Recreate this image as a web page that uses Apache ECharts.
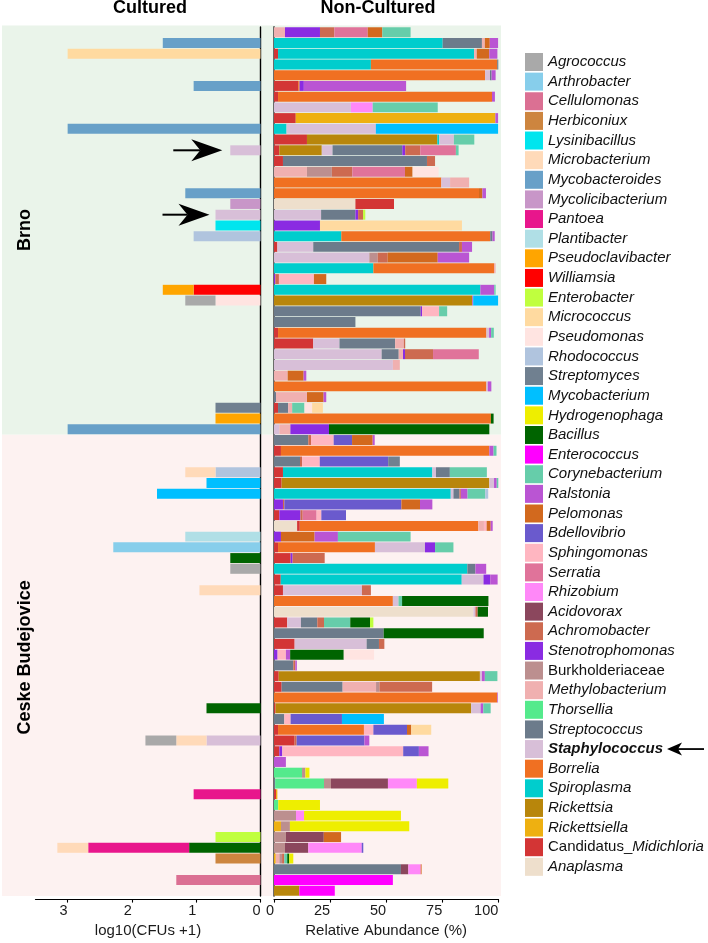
<!DOCTYPE html>
<html><head><meta charset="utf-8">
<script src="https://cdn.jsdelivr.net/npm/echarts@6/dist/echarts.min.js"></script>
<style>html,body{margin:0;padding:0;background:#fff}#c{width:708px;height:943px}</style>
</head><body><div id="c"></div>
<script>
// ---------- DATA ----------
const taxa = ['Agrococcus','Arthrobacter','Cellulomonas','Herbiconiux','Lysinibacillus','Microbacterium','Mycobacteroides','Mycolicibacterium','Pantoea','Plantibacter','Pseudoclavibacter','Williamsia','Enterobacter','Micrococcus','Pseudomonas','Rhodococcus','Streptomyces','Mycobacterium','Hydrogenophaga','Bacillus','Enterococcus','Corynebacterium','Ralstonia','Pelomonas','Bdellovibrio','Sphingomonas','Serratia','Rhizobium','Acidovorax','Achromobacter','Stenotrophomonas','Burkholderiaceae','Methylobacterium','Thorsellia','Streptococcus','Staphylococcus','Borrelia','Spiroplasma','Rickettsia','Rickettsiella','Candidatus_Midichloria','Anaplasma'];
const codes = ['Agr','Art','Cel','Her','Lys','Mba','Mbd','Mcl','Pan','Pla','Psc','Wil','Ent','Mic','Psm','Rho','Smy','Myc','Hyd','Bac','Enc','Cor','Ral','Pel','Bde','Sph','Ser','Rhi','Aci','Ach','Ste','Bur','Met','Tho','Stc','Sta','Bor','Spi','Rik','Rkl','Can','Ana'];
const palette = ['#a9a9a9','#87ceeb','#db7093','#cd853f','#00e5ee','#ffdab9','#68a0c8','#c896c8','#e8168c','#b0dfe6','#ffa500','#ff0000','#c0ff3e','#ffdaa0','#ffe4e1','#b0c4de','#708090','#00bfff','#eeee00','#006400','#ff00ff','#66cdaa','#ba55d3','#d2691e','#6a5acd','#ffb6c1','#e0739a','#ff88f8','#8b475d','#cd6a50','#8a2be2','#bc8f8f','#f0b0b0','#54ea8c','#6c7b8b','#d8bfd8','#f07022','#00cdcd','#b8860b','#eeb011','#d33535','#eedfcc'];
const groups = ['Brno','Ceske Budejovice'];
const leftTicks = [0,1,2,3];
const rightTicks = [0,25,50,75,100];

// Cultured: log10(CFUs+1), one entry per tick (top to bottom)
const brnoCultured = [
 [],[['Mbd',1.52]],[['Mic',3.0]],[],[],[['Mbd',1.04]],[],[],[],[['Mbd',3.0]],
 [],[['Sta',0.47]],[],[],[],[['Mbd',1.17]],[['Mcl',0.47]],[['Sta',0.70]],[['Lys',0.70]],[['Rho',1.04]],
 [],[],[],[],[['Wil',1.04],['Psc',0.48]],[['Psm',0.70],['Agr',0.47]],[],[],[],[],
 [],[],[],[],[],[['Smy',0.70]],[['Psc',0.70]],[['Mbd',3.0]]
];
const cbCultured = [
 [],[],[],[['Rho',0.70],['Mba',0.47]],[['Myc',0.84]],[['Myc',1.61]],[],[],[],[['Pla',1.17]],
 [['Art',2.29]],[['Bac',0.47]],[['Agr',0.47]],[],[['Mba',0.95]],[],[],[],[],[],
 [],[],[],[],[],[['Bac',0.84]],[],[],[['Sta',0.84],['Mba',0.47],['Agr',0.48]],[],
 [],[],[],[['Pan',1.04]],[],[],[],[['Ent',0.70]],[['Bac',1.11],['Pan',1.57],['Mba',0.48]],[['Her',0.70]],
 [],[['Cel',1.31]],[]
];

// Non-cultured: relative abundance (%)
const brnoNonCultured = [
 [['Met',4.9],['Ste',15.6],['Ach',6.4],['Ser',14.9],['Pel',6.5],['Cor',12.6]],
 [['Spi',75.2],['Stc',17.5],['Met',1.3],['Pel',2.2],['Ral',3.7]],
 [['Can',1.8],['Spi',87.4],['Met',1.2],['Pel',5.6],['Ral',3.6]],
 [['Spi',43.2],['Bor',56.3],['Stc',0.5]],
 [['Bor',94.1],['Sta',2.2],['Stc',0.7],['Ral',1.8]],
 [['Can',10.8],['Bor',0.6],['Ste',1.9],['Ral',45.6]],
 [['Can',1.8],['Bor',95.4],['Ral',1.3]],
 [['Sta',34.3],['Rhi',9.7],['Cor',29.0]],
 [['Can',9.7],['Rkl',89.0],['Ral',1.2]],
 [['Spi',5.6],['Sta',39.8],['Myc',54.5]],
 [['Can',14.7],['Rik',58.1],['Spi',0.9],['Sta',6.5],['Cor',9.1]],
 [['Can',2.4],['Rik',18.9],['Sta',4.8],['Stc',31.1],['Ste',1.3],['Ach',6.7],['Ser',15.9],['Cor',1.2]],
 [['Can',4.0],['Stc',64.2],['Ach',3.6]],
 [['Met',14.7],['Bur',11.1],['Ach',9.1],['Ser',23.5],['Pel',3.4],['Psm',11.6]],
 [['Bor',74.6],['Sta',3.9],['Met',8.5]],
 [['Bor',91.4],['Pel',1.5],['Ral',1.6]],
 [['Ana',36.3],['Can',17.2]],
 [['Sta',21.0],['Stc',15.3],['Ste',1.2],['Ach',2.2],['Ent',1.0]],
 [['Ste',20.5],['Mic',63.3]],
 [['Spi',30.0],['Bor',66.4],['Stc',1.0],['Ral',1.0]],
 [['Can',1.5],['Sta',16.0],['Stc',65.0],['Ach',1.3],['Ral',4.5]],
 [['Sta',42.5],['Bur',3.7],['Ach',4.5],['Pel',22.3],['Ral',14.0]],
 [['Spi',44.3],['Bor',53.8],['Met',0.7]],
 [['Ste',0.6],['Ach',1.6],['Sph',15.6],['Pel',5.5]],
 [['Spi',92.0],['Ral',6.2],['Cor',0.6]],
 [['Rik',88.4],['Ral',0.4],['Myc',11.1]],
 [['Stc',65.4],['Ste',0.6],['Sph',7.6],['Cor',3.6]],
 [['Stc',36.3]],
 [['Can',1.8],['Bor',92.9],['Sta',1.2],['Ral',0.9],['Cor',1.2]],
 [['Can',17.5],['Sta',11.7],['Stc',24.8],['Met',3.9],['Ach',0.6]],
 [['Sta',48.0],['Stc',7.6],['Met',1.9],['Ste',0.9],['Ach',12.5],['Ser',20.4]],
 [['Sta',53.0],['Met',3.1]],
 [['Met',6.1],['Pel',7.1],['Ral',1.2]],
 [['Bor',94.7],['Sta',0.6],['Ral',1.6]],
 [['Stc',0.9],['Met',13.8],['Pel',7.4],['Ral',1.2]],
 [['Can',1.8],['Stc',4.5],['Met',1.8],['Cor',5.5],['Psm',3.4],['Mic',4.8]],
 [['Bor',96.7],['Bac',1.2]],
 [['Sta',2.4],['Met',4.9],['Ste',17.2],['Bac',71.5]]
];
const cbNonCultured = [
 [['Stc',15.3],['Ach',1.2],['Sph',10.1],['Bde',8.2],['Pel',9.2],['Ral',0.9]],
 [['Can',3.1],['Bor',92.9],['Ral',1.9],['Cor',1.3]],
 [['Stc',11.6],['Ach',0.9],['Sph',7.9],['Bde',30.5],['Smy',5.2]],
 [['Can',4.0],['Spi',66.6],['Sta',1.6],['Stc',6.2],['Cor',16.5]],
 [['Can',3.4],['Rik',92.6],['Sta',2.1],['Ral',1.2],['Cor',0.7]],
 [['Spi',78.8],['Sta',1.2],['Stc',2.7],['Ach',0.6],['Ral',3.0],['Cor',7.9],['Rho',1.3]],
 [['Ste',4.0],['Ach',0.6],['Bde',52.2],['Pel',8.3],['Ral',5.5]],
 [['Can',2.4],['Ste',9.4],['Ach',1.0],['Ser',6.2],['Sph',2.1],['Bde',11.0]],
 [['Ana',10.3],['Can',1.2],['Bor',79.6],['Met',2.5],['Sph',1.2],['Pel',1.8],['Ral',0.9]],
 [['Ste',3.1],['Pel',15.0],['Ral',10.4],['Cor',32.4]],
 [['Can',1.8],['Bor',43.2],['Sta',22.3],['Ste',4.5],['Cor',8.2]],
 [['Can',7.4],['Ste',0.9],['Ach',14.3]],
 [['Spi',86.2],['Stc',3.6],['Ral',4.8]],
 [['Can',3.0],['Spi',80.7],['Sta',9.7],['Ste',3.0],['Ral',3.3]],
 [['Can',4.0],['Sta',35.2],['Ach',4.0]],
 [['Bor',53.0],['Sta',2.5],['Cor',1.6],['Bac',38.5]],
 [['Ana',88.9],['Sta',0.9],['Ach',1.0],['Bac',4.6]],
 [['Can',5.9],['Sta',6.1],['Stc',7.3],['Ach',3.0],['Cor',11.7],['Bac',8.8],['Ent',1.5]],
 [['Stc',48.9],['Bac',44.6]],
 [['Can',9.2],['Sta',32.1],['Stc',5.5],['Ach',2.4]],
 [['Ste',1.6],['Sph',3.7],['Ral',1.9],['Bac',23.9],['Psm',13.5]],
 [['Stc',8.6],['Ach',0.9],['Ral',0.7]],
 [['Can',2.1],['Rik',89.7],['Sta',0.9],['Ral',1.3],['Cor',5.6]],
 [['Can',3.4],['Stc',27.2],['Met',14.9],['Bur',1.5],['Ach',23.5]],
 [['Bor',99.5],['Ral',0.3]],
 [['Can',0.7],['Rik',87.2],['Sta',4.2],['Ral',1.2],['Cor',3.3]],
 [['Stc',4.6],['Sph',2.8],['Bde',22.9],['Myc',18.7]],
 [['Can',1.8],['Bor',38.3],['Sph',4.2],['Bde',15.0],['Pel',1.9],['Mic',8.9]],
 [['Can',9.2],['Ach',0.9],['Bde',30.2],['Ral',2.2]],
 [['Can',2.4],['Ste',1.3],['Sph',53.9],['Bde',7.0],['Ral',4.3]],
 [['Ral',5.3]],
 [['Tho',12.5],['Bur',1.5],['Hyd',1.8]],
 [['Stc',0.5],['Tho',21.8],['Bur',3.1],['Aci',25.4],['Rhi',12.9],['Hyd',14.0]],
 [['Can',0.9],['Rkl',0.6]],
 [['Tho',1.9],['Hyd',18.6]],
 [['Bur',9.8],['Rhi',3.6],['Hyd',43.2]],
 [['Rkl',3.1],['Bur',4.0],['Hyd',53.2]],
 [['Bur',5.3],['Aci',16.9],['Pel',7.7]],
 [['Bur',4.9],['Aci',10.4],['Rhi',23.8],['Bde',0.7]],
 [['Rkl',0.8],['Met',1.6],['Bur',1.2],['Ach',1.0],['Cor',1.3],['Bac',0.9],['Hyd',1.8]],
 [['Stc',56.6],['Aci',3.3],['Rhi',5.5],['Pel',0.4]],
 [['Enc',53.0]],
 [['Rik',11.3],['Enc',15.8]]
];

// ---------- BUILD ----------
const FONT = '"Liberation Sans", Arial, Helvetica, sans-serif';
const rowIds = brnoNonCultured.map((_, i) => 'Brno ' + (i + 1))
  .concat(cbNonCultured.map((_, i) => 'CB ' + (i + 1)));
const cultured = brnoCultured.concat(cbCultured);
const nonCultured = brnoNonCultured.concat(cbNonCultured);
const column = (rows, code) => rows.map(r => { const e = r.find(s => s[0] === code); return e ? e[1] : 0; });

const series = [];
for (let i = taxa.length - 1; i >= 0; i--) {
  const c = codes[i];
  const L = column(cultured, c), R = column(nonCultured, c);
  const base = { type: 'bar', name: taxa[i], silent: true, barCategoryGap: '7%',
    itemStyle: { color: palette[i] } };
  if (L.some(v => v > 0)) series.push(Object.assign({}, base, { xAxisIndex: 0, yAxisIndex: 0, stack: 'cult', data: L }));
  if (R.some(v => v > 0)) series.push(Object.assign({}, base, { xAxisIndex: 1, yAxisIndex: 1, stack: 'nc', data: R }));
}

const GT = 26.9, GH = 872.4;
const axisTxt = { fontSize: 14.5, color: '#1a1a1a', fontFamily: FONT };
const nameTxt = { fontSize: 15, color: '#1a1a1a', fontFamily: FONT };
const legendTop = 53, legendItem = 18, legendGap = 1.63;

const chart = echarts.init(document.getElementById('c'), null, { renderer: 'canvas' });
chart.setOption({
  animation: false,
  backgroundColor: '#ffffff',
  grid: [
    { left: 35.5, top: GT, width: 225, height: GH },
    { left: 274, top: GT, width: 224.3, height: GH }
  ],
  xAxis: [
    { gridIndex: 0, type: 'value', min: 0, max: 3.5, inverse: true, position: 'bottom', offset: 3,
      axisLine: { show: true, lineStyle: { color: '#000', width: 1.2 } },
      axisTick: { show: true, length: 3.5, customValues: leftTicks, lineStyle: { color: '#000', width: 1.1 } },
      axisLabel: { customValues: leftTicks, align: 'right', margin: 4, ...axisTxt },
      splitLine: { show: false },
      name: 'log10(CFUs +1)', nameLocation: 'middle', nameGap: 23, nameTextStyle: nameTxt },
    { gridIndex: 1, type: 'value', min: 0, max: 100, interval: 25, position: 'bottom', offset: 3,
      axisLine: { show: true, lineStyle: { color: '#000', width: 1.2 } },
      axisTick: { show: true, length: 3.5, customValues: rightTicks, lineStyle: { color: '#000', width: 1.1 } },
      axisLabel: { customValues: rightTicks, align: 'right', margin: 4, ...axisTxt },
      splitLine: { show: false },
      name: 'Relative Abundance (%)', nameLocation: 'middle', nameGap: 23, nameTextStyle: nameTxt }
  ],
  yAxis: [
    { gridIndex: 0, type: 'category', data: rowIds, inverse: true, position: 'right',
      axisLine: { show: true, lineStyle: { color: '#000', width: 1.4 } },
      axisTick: { show: false }, axisLabel: { show: false }, splitLine: { show: false } },
    { gridIndex: 1, type: 'category', data: rowIds, inverse: true, position: 'left',
      axisLine: { show: true, lineStyle: { color: '#4a4a4a', width: 1.6 } },
      axisTick: { show: false }, axisLabel: { show: false }, splitLine: { show: false } }
  ],
  legend: {
    data: taxa, orient: 'vertical', left: 525, top: legendTop, itemWidth: legendItem, itemHeight: legendItem,
    itemGap: legendGap, selectedMode: false, icon: 'rect', padding: 0,
    textStyle: { fontSize: 15, color: '#111', fontFamily: FONT,
      rich: {
        i: { fontStyle: 'italic', fontSize: 15, lineHeight: 18, fontFamily: FONT, color: '#111' },
        n: { fontStyle: 'normal', fontSize: 15, lineHeight: 18, fontFamily: FONT, color: '#111' },
        b: { fontStyle: 'italic', fontWeight: 'bold', fontSize: 15, lineHeight: 18, fontFamily: FONT, color: '#111' }
      } },
    formatter: name => name === 'Burkholderiaceae' ? '{n|' + name + '}'
      : name === 'Candidatus_Midichloria' ? '{n|Candidatus_}{i|Midichloria}'
      : name === 'Staphylococcus' ? '{b|' + name + '}' : '{i|' + name + '}'
  },
  series: series
});

// ---------- ANNOTATIONS (background bands, titles, arrows) ----------
const yPix = id => chart.convertToPixel({ yAxisIndex: 1 }, id);
const band = yPix(rowIds[1]) - yPix(rowIds[0]);
const topY = yPix(rowIds[0]) - band / 2 - 1.5;
const midY = yPix(rowIds[brnoNonCultured.length - 1]) + band / 2;
const botY = yPix(rowIds[rowIds.length - 1]) + band / 2;
const bgLeft = 2, bgRight = 501;

// dir = +1 points right (tail on the left), dir = -1 points left (tail on the right)
function arrow(tipX, y, len, headL, headH, notch, lw, dir) {
  const d = dir || 1;
  return [
    { type: 'line', silent: true, z: 50, shape: { x1: tipX - d * len, y1: y, x2: tipX - d * (headL - notch), y2: y },
      style: { stroke: '#000', lineWidth: lw } },
    { type: 'polygon', silent: true, z: 50,
      shape: { points: [[tipX, y], [tipX - d * headL, y - headH], [tipX - d * (headL - notch), y], [tipX - d * headL, y + headH]] },
      style: { fill: '#000' } }
  ];
}
const rowTotal = r => r.reduce((s, e) => s + e[1], 0);
const xL = v => chart.convertToPixel({ xAxisIndex: 0 }, v);
const a1Row = 11, a2Row = 17;
const a1Tip = xL(rowTotal(brnoCultured[a1Row])) - 8;
const a2Tip = xL(rowTotal(brnoCultured[a2Row])) - 6;
const staphIdx = taxa.indexOf('Staphylococcus');
const staphY = legendTop + staphIdx * (legendItem + legendGap) + legendItem / 2;

chart.setOption({
  graphic: [
    { type: 'rect', silent: true, z: -10, shape: { x: bgLeft, y: topY, width: bgRight - bgLeft, height: midY - topY },
      style: { fill: '#eaf4ea' } },
    { type: 'rect', silent: true, z: -10, shape: { x: bgLeft, y: midY, width: bgRight - bgLeft, height: botY - midY },
      style: { fill: '#fdf2f1' } },
    { type: 'text', silent: true, x: 150, y: 8,
      style: { text: 'Cultured', font: 'bold 18px ' + FONT, fill: '#000', align: 'center', verticalAlign: 'middle' } },
    { type: 'text', silent: true, x: 378, y: 8,
      style: { text: 'Non-Cultured', font: 'bold 18px ' + FONT, fill: '#000', align: 'center', verticalAlign: 'middle' } },
    { type: 'text', silent: true, x: 25, y: (topY + midY) / 2, rotation: Math.PI / 2,
      style: { text: groups[0], font: 'bold 18px ' + FONT, fill: '#000', align: 'center', verticalAlign: 'middle' } },
    { type: 'text', silent: true, x: 25, y: (midY + botY) / 2 - 8, rotation: Math.PI / 2,
      style: { text: groups[1], font: 'bold 18px ' + FONT, fill: '#000', align: 'center', verticalAlign: 'middle' } },
    ...arrow(a1Tip, yPix(rowIds[a1Row]), 49, 31, 11, 9, 2, 1),
    ...arrow(a2Tip, yPix(rowIds[a2Row]), 47, 31, 11, 9, 2, 1),
    ...arrow(667, staphY, 37, 15, 6.5, 4, 1.8, -1)
  ]
});
</script>
</body></html>
